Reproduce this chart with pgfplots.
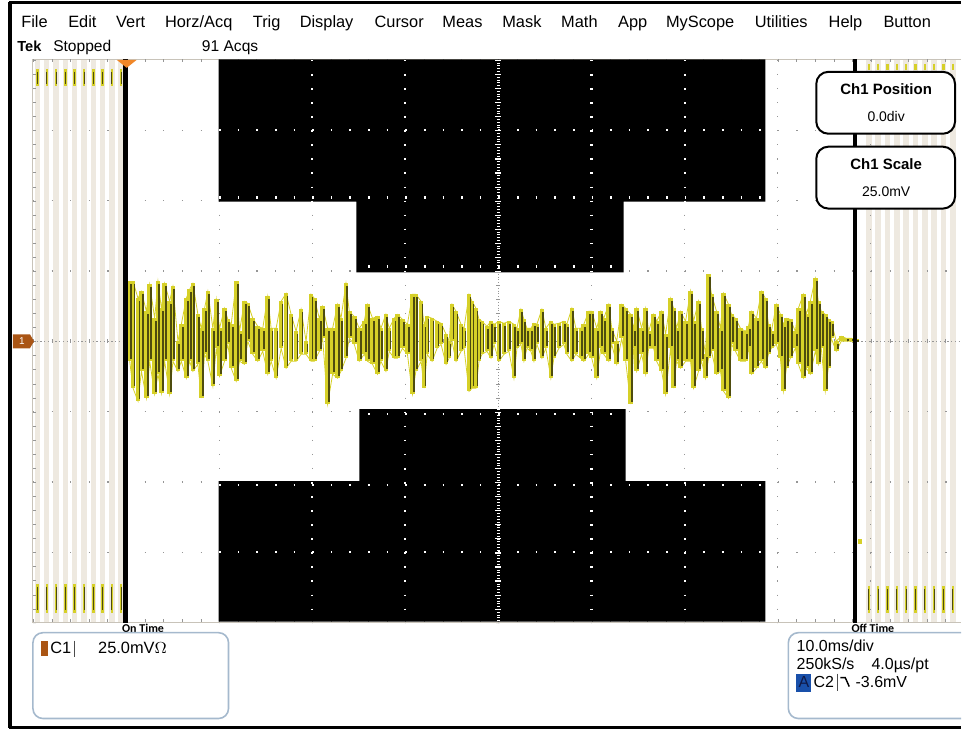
\documentclass[border=0pt]{standalone}
\usepackage{fontspec}
\setmainfont{Liberation Sans}
\newfontfamily\calibri{Carlito}
\usepackage{pgfplots}
\usepackage{pgfplotstable}
\pgfplotsset{compat=1.18}
\definecolor{wyel}{RGB}{214,208,40}
\definecolor{wolive}{RGB}{78,76,14}
\definecolor{stripe}{RGB}{238,233,224}
\definecolor{gratline}{RGB}{200,195,185}
\definecolor{gratdot}{RGB}{150,150,150}
\definecolor{boxblue}{RGB}{165,185,205}
\definecolor{chbrown}{RGB}{170,85,20}
\definecolor{trigorange}{RGB}{240,135,40}
\definecolor{ablue}{RGB}{25,80,170}

% waveform columns: x (px), top (px), bottom (px)
\pgfplotstableread{
x t b
130 280 360
133.3 280 387
138.3 297 400
141.7 290 370
146.7 310 397
150 283 360
155 317 393
158.3 280 373
161.7 307 392
165 282 360
170 300 393
173.3 285 360
178.3 340 370
181.7 323 360
186.7 297 377
190 288 360
193.3 282 370
198.3 313 363
201.7 327 397
205 307 353
208.3 290 360
213.3 327 385
216.7 298 347
220 327 375
225 307 360
228.3 318 343
231.7 323 367
236.7 280 380
240 330 360
245 300 363
248.3 302 340
253.3 317 353
258.3 325 360
263.3 327 350
268.3 295 373
271.7 327 360
276.7 327 377
281.7 300 347
286.7 292 367
291.7 313 360
296.7 330 360
301.7 308 353
306.7 340 353
311.7 293 360
315 297 360
320 317 350
323.3 305 337
328.3 327 403
333.3 327 373
338.3 303 377
341.7 317 370
346.7 282 357
350 310 337
355 315 343
360 327 360
365 320 353
368.3 303 360
373.3 317 363
378.3 315 373
381.7 327 360
386.7 313 370
390 327 350
395 317 357
398.3 313 357
403.3 318 347
408.3 323 353
413.3 293 393
416.7 293 370
422 300 360
425 323 387
428 315 353
433 317 360
438 320 347
442 322 343
447 333 363
450 340 357
453 303 340
457 310 360
462 323 350
465 327 347
470 293 390
473 300 387
477 307 387
480 318 360
483 320 353
488 325 350
492 320 357
495 323 343
500 320 360
505 322 353
510 320 350
515 323 377
518 327 347
522 308 343
525 318 360
528 327 347
532 327 350
535 322 360
538 323 343
543 308 357
547 327 347
552 320 377
555 323 357
560 322 347
565 320 343
568 323 353
573 307 360
577 327 353
582 327 357
585 323 360
590 310 353
593 310 357
598 327 377
602 310 347
605 317 353
610 303 360
613 327 343
618 340 363
623 303 337
627 307 360
632 313 403
635 327 347
638 307 370
643 327 353
647 307 373
650 330 347
655 313 347
658 320 360
663 310 370
667 333 393
672 297 347
675 307 387
678 327 360
682 310 367
687 320 360
692 290 360
695 320 387
700 300 370
703 327 360
707 353 377
710 273 357
713 293 350
718 310 373
722 327 370
725 292 390
730 303 397
733 313 343
737 317 350
742 327 360
747 330 360
750 325 347
753 310 373
758 317 367
763 290 360
767 297 367
770 323 353
773 330 347
778 303 343
782 313 357
785 323 390
788 317 367
792 318 357
797 330 347
800 307 363
805 293 377
808 313 367
812 300 373
817 277 350
820 300 363
823 310 347
827 313 390
830 318 367
833 320 337
838 340 350
843 335 340
848 337 340
853 337 340
858 338 341
}\wave

\begin{document}
\begin{tikzpicture}
\begin{axis}[
  at={(0,0)}, anchor=south west,
  scale only axis, width=465pt, height=282pt,
  xmin=33, xmax=963, ymin=58, ymax=622, y dir=reverse,
  hide axis, clip=false,
]
% page background and outer frame
\fill[white] (0,0) rectangle (963,728);
\draw[black, line width=2pt] (10,0) -- (10,728);
\draw[black, line width=1.5pt] (9,0.75) -- (963,0.75);
\draw[black, line width=1.5pt] (9,727.25) -- (963,727.25);

% pulse-train stripes left and right
\pgfplotsinvokeforeach{37.5,46.8,56.2,65.5,74.8,84.2,93.5,102.8,112.2,121.5,870.7,880,889.3,898.7,908,917.3,926.7,936,945.3,954.7}{
  \addplot[stripe, line width=2.8pt, forget plot] coordinates {(#1,58) (#1,621)};
}
\pgfplotsinvokeforeach{37.5,46.8,56.2,65.5,74.8,84.2,93.5,102.8,112.2,121.5}{
  \addplot[wyel, line width=1.2pt, forget plot] coordinates {(#1,67) (#1,84)};
  \addplot[wolive, line width=0.5pt, forget plot] coordinates {(#1,70) (#1,82)};
  \addplot[wyel, line width=1.2pt, forget plot] coordinates {(#1,583) (#1,612)};
  \addplot[wolive, line width=0.5pt, forget plot] coordinates {(#1,586) (#1,609)};
}
\pgfplotsinvokeforeach{870.7,880,889.3,898.7,908,917.3,926.7,936,945.3,954.7}{
  \addplot[wyel, line width=1.2pt, forget plot] coordinates {(#1,62) (#1,68)};
  \addplot[wyel, line width=1.2pt, forget plot] coordinates {(#1,585) (#1,612)};
  \addplot[wolive, line width=0.5pt, forget plot] coordinates {(#1,588) (#1,609)};
}

% graticule frame and edge ticks
\draw[gratline, line width=0.5pt] (963,57.5) -- (33,57.5) -- (33,621.5) -- (963,621.5);
\draw[gratdot, line width=1.5pt, dash pattern=on 0.5pt off 8.83pt] (33,59) -- (963,59);
\draw[gratdot, line width=1.5pt, dash pattern=on 0.5pt off 8.83pt] (33,620) -- (963,620);
\draw[gratdot, line width=1.5pt, dash pattern=on 0.5pt off 6.55pt] (34.5,58) -- (34.5,622);
% dotted grid
\pgfplotsinvokeforeach{219.6,312.9,406.2,592.8,686.1,779.4,872.7}{
  \draw[gratdot, line width=0.6pt, dash pattern=on 0.6pt off 6.45pt] (#1,58) -- (#1,622);
}
\pgfplotsinvokeforeach{128.5,199,269.5,410.5,481,551.5}{
  \draw[gratdot, line width=0.6pt, dash pattern=on 0.6pt off 8.73pt] (33,#1) -- (963,#1);
}
% centre cross
\draw[gratdot, line width=0.5pt, dash pattern=on 0.6pt off 1.27pt] (33,340) -- (963,340);
\draw[gratdot, line width=2pt, dash pattern=on 0.5pt off 8.83pt] (33,340) -- (963,340);
\draw[gratdot, line width=0.5pt, dash pattern=on 0.5pt off 0.91pt] (499.5,58) -- (499.5,622);
\draw[gratdot, line width=2pt, dash pattern=on 0.5pt off 6.55pt] (499.5,58) -- (499.5,622);

% mask regions
\addplot[fill=black, draw=none, forget plot] coordinates {(219,57.5) (767,57.5) (767,200) (625,200) (625,271) (357,271) (357,200) (219,200) (219,57.5)};
\addplot[fill=black, draw=none, forget plot] coordinates {(360,408) (627,408) (627,480) (767,480) (767,621) (219,621) (219,480) (360,480) (360,408)};
% graticule seen through the masks
\pgfplotsinvokeforeach{312.9,686.1}{
  \draw[white, line width=1.1pt, dash pattern=on 0.8pt off 6.25pt] (#1,58) -- (#1,200);
  \draw[white, line width=1.1pt, dash pattern=on 0.8pt off 6.25pt] (#1,481) -- (#1,621);
}
\pgfplotsinvokeforeach{406.2,592.8}{
  \draw[white, line width=1.1pt, dash pattern=on 0.8pt off 6.25pt] (#1,58) -- (#1,271);
  \draw[white, line width=1.1pt, dash pattern=on 0.8pt off 6.25pt] (#1,410.5) -- (#1,621);
}
\draw[white, line width=1.1pt, dash pattern=on 0.8pt off 8.53pt] (219.6,128.5) -- (767,128.5);
\draw[white, line width=1.1pt, dash pattern=on 0.8pt off 8.53pt] (219.6,196) -- (767,196);
\draw[white, line width=1.1pt, dash pattern=on 0.8pt off 8.53pt] (368.9,265) -- (622,265);
\draw[white, line width=1.1pt, dash pattern=on 0.8pt off 8.53pt] (368.9,413) -- (622,413);
\draw[white, line width=1.1pt, dash pattern=on 0.8pt off 8.53pt] (219.6,484) -- (767,484);
\draw[white, line width=1.1pt, dash pattern=on 0.8pt off 8.53pt] (219.6,551.5) -- (767,551.5);
\draw[white, line width=1.2pt, dash pattern=on 0.5pt off 0.91pt] (499.5,58) -- (499.5,271);
\draw[white, line width=3pt, dash pattern=on 0.6pt off 6.45pt] (499.5,58) -- (499.5,271);
\draw[white, line width=1.2pt, dash pattern=on 0.5pt off 0.91pt] (499.5,408) -- (499.5,621);
\draw[white, line width=3pt, dash pattern=on 0.6pt off 6.45pt] (499.5,410.5) -- (499.5,621);

% waveform (envelope of acquisitions)
\addplot[forget plot, wyel, line width=0.4pt, mark=none] table[x=x, y=t] {\wave};
\addplot[forget plot, wyel, line width=0.4pt, mark=none] table[x=x, y=b] {\wave};
\addplot[forget plot, draw=none, mark=none,
  error bars/.cd, y dir=both, y explicit, error mark=none,
  error bar style={draw=wyel, line width=2.3pt}]
  table[x=x, y expr={(\thisrow{t}+\thisrow{b})/2}, y error expr={(\thisrow{b}-\thisrow{t})/2}] {\wave};
\addplot[forget plot, draw=none, mark=none,
  error bars/.cd, y dir=both, y explicit, error mark=none,
  error bar style={draw=wolive, line width=0.9pt}]
  table[x expr={\thisrow{x}+1.4}, y expr={(\thisrow{t}+\thisrow{b}+1)/2}, y error expr={(\thisrow{b}-\thisrow{t}-5)/2}] {\wave};

% on / off time lines, markers
\addplot[black, line width=2.5pt, forget plot] coordinates {(126,57.5) (126,622)};
\addplot[black, line width=2pt, forget plot] coordinates {(857,57.5) (857,622)};
\fill[trigorange] (117,58) -- (137,58) -- (127,66) -- cycle;
\fill[chbrown] (13,333) -- (30,333) -- (34,340) -- (30,347) -- (13,347) -- cycle;
\node[white, font=\fontsize{5}{6}\selectfont, inner sep=0] at (22,340) {1};
\fill[wyel] (860,538) rectangle (864,543);

% menu bar
\begin{scope}[every node/.style={anchor=base west, inner sep=0, font=\fontsize{8.2}{10}\selectfont}]
\node at (21,26) {File};
\node at (68,26) {Edit};
\node at (116,26) {Vert};
\node at (165,26) {Horz/Acq};
\node at (253,26) {Trig};
\node at (300,26) {Display};
\node at (375,26) {Cursor};
\node at (443,26) {Meas};
\node at (503,26) {Mask};
\node at (562,26) {Math};
\node at (619,26) {App};
\node at (667,26) {MyScope};
\node at (756,26) {Utilities};
\node at (830,26) {Help};
\node at (885,26) {Button};
\end{scope}
\node[anchor=base west, inner sep=0, font=\fontsize{7.3}{9}\selectfont\bfseries] at (17,50) {Tek};
\node[anchor=base west, inner sep=0, font=\fontsize{7.8}{9}\selectfont] at (53,50) {Stopped};
\node[anchor=base west, inner sep=0, font=\fontsize{7.8}{9}\selectfont] at (202,50) {91 Acqs};

% Ch1 boxes
\draw[black, line width=1pt, fill=white, rounded corners=6pt] (818,70) rectangle (957,132);
\draw[black, line width=1pt, fill=white, rounded corners=6pt] (818,145) rectangle (957,207);
\node[anchor=base, inner sep=0, font=\fontsize{7.5}{9}\selectfont\bfseries] at (888,92.5) {Ch1 Position};
\node[anchor=base, inner sep=0, font=\fontsize{7}{9}\selectfont] at (888,120) {0.0div};
\node[anchor=base, inner sep=0, font=\fontsize{7.5}{9}\selectfont\bfseries] at (888,167.5) {Ch1 Scale};
\node[anchor=base, inner sep=0, font=\fontsize{7}{9}\selectfont] at (888,195) {25.0mV};

% On / Off Time labels
\node[anchor=base west, inner sep=0, font=\calibri\fontsize{6}{7}\selectfont\bfseries] at (122,632) {On Time};
\node[anchor=base west, inner sep=0, font=\calibri\fontsize{6}{7}\selectfont\bfseries] at (853,632) {Off Time};

% bottom-left readout box
\draw[boxblue, line width=0.8pt, rounded corners=5pt] (33,632) rectangle (229,718);
\fill[chbrown] (41,640) rectangle (48,655);
\node[anchor=base west, inner sep=0, font=\fontsize{8.2}{10}\selectfont] at (50,653) {C1};
\draw[black!70, line width=0.5pt] (75,640) -- (75,656);
\node[anchor=base west, inner sep=0, font=\fontsize{8.2}{10}\selectfont] at (98,653) {25.0mV$\Omega$};

% bottom-right readout box
\draw[boxblue, line width=0.8pt, rounded corners=5pt] (963,632) -- (790,632) -- (790,718) -- (963,718);
\node[anchor=base west, inner sep=0, font=\fontsize{8}{10}\selectfont] at (798,651) {10.0ms/div};
\node[anchor=base west, inner sep=0, font=\fontsize{8}{10}\selectfont] at (798,669) {250kS/s};
\node[anchor=base west, inner sep=0, font=\fontsize{8}{10}\selectfont] at (873,669) {4.0µs/pt};
\fill[ablue] (798,673) rectangle (813,691);
\node[anchor=base, inner sep=0, text={rgb,255:red,15;green,25;blue,70}, font=\fontsize{8}{10}\selectfont] at (805.5,687) {A};
\node[anchor=base west, inner sep=0, font=\fontsize{8}{10}\selectfont] at (815,687) {C2};
\draw[black!70, line width=0.5pt] (839,673) -- (839,690);
\draw[black, line width=0.7pt] (842,677) -- (847,677) -- (851,686);
\node[anchor=base west, inner sep=0, font=\fontsize{8}{10}\selectfont] at (857,687) {-3.6mV};
\end{axis}
\end{tikzpicture}
\end{document}
